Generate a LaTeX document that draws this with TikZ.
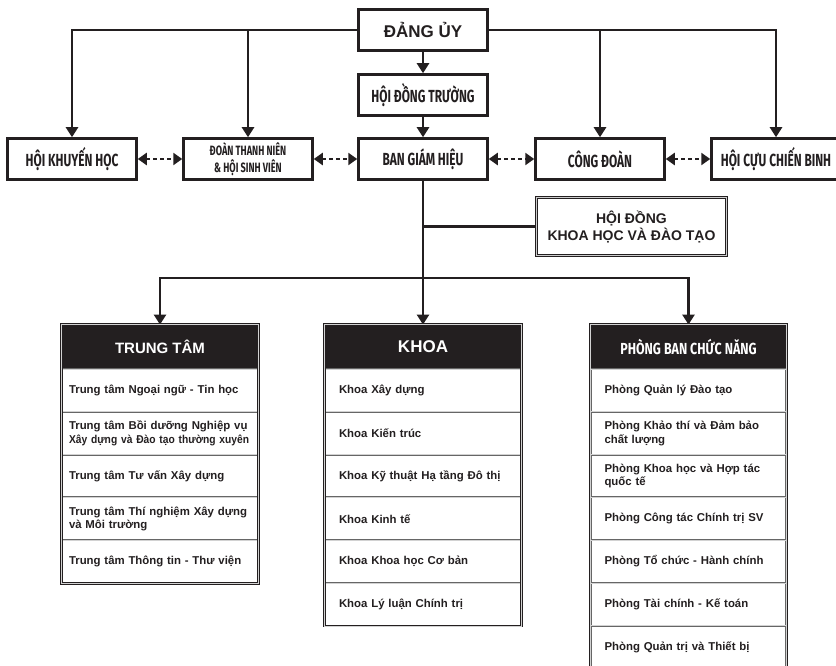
\documentclass[tikz,border=0pt]{standalone}
\usepackage{fontspec}
\setmainfont{Liberation Sans}
\newfontfamily\narrowfont[FakeStretch=0.68]{Fira Sans}
\newfontfamily\headfont[FakeStretch=0.78]{Fira Sans}
\newfontfamily\tightfont[FakeStretch=0.9]{Liberation Sans}
\usetikzlibrary{arrows.meta}

\definecolor{inkblack}{HTML}{231F20}

\tikzset{
    unitbox/.style={draw=inkblack, line width=2.5pt, fill=white, minimum width=129pt, minimum height=41pt,
        inner sep=2pt, align=center, text=inkblack, font=\narrowfont\bfseries\fontsize{17.5}{18}\selectfont},
    councilbox/.style={draw=inkblack, line width=1pt, double=gray!40, double distance=1.8pt, fill=white,
        minimum width=190pt, minimum height=58pt, align=center, text=inkblack, font=\bfseries\fontsize{14}{17}\selectfont},
    listhead/.style={draw=inkblack, fill=inkblack, line width=0.8pt, minimum width=196pt, minimum height=44pt,
        inner sep=0pt, text=white, font=\bfseries\fontsize{15}{16}\selectfont},
    listitem/.style={draw=black!60, line width=0.6pt, double=gray!35, double distance=0.9pt, fill=white,
        text width=168pt, minimum height=42.8pt, inner xsep=14pt, inner ysep=0pt, align=left, text=inkblack,
        font=\bfseries\fontsize{11.4}{13.5}\selectfont},
    listframe/.style={draw=inkblack, line width=0.8pt, double=gray!35, double distance=1pt},
    solidarrow/.style={draw=inkblack, line width=2.4pt, -{Triangle[width=12pt,length=10pt]}},
    linkarrow/.style={draw=inkblack, line width=2.4pt, dash pattern=on 4pt off 3pt,
        {Triangle[width=12pt,length=9pt]}-{Triangle[width=12pt,length=9pt]}},
    plainline/.style={draw=inkblack, line width=2.4pt}
}

\begin{document}
\begin{tikzpicture}[x=1pt, y=-1pt]
    \clip (0,0) rectangle (836,666);
    %   Top level
    \node[unitbox, font=\bfseries\fontsize{17}{18}\selectfont] (dangUy) at (423,30) {ĐẢNG ỦY};
    \node[unitbox] (hdTruong) at (423,95) {HỘI ĐỒNG TRƯỜNG};
    \node[unitbox] (banGH) at (423,159) {BAN GIÁM HIỆU};
    \node[unitbox] (khuyenHoc) at (72,159) {HỘI KHUYẾN HỌC};
    \node[unitbox, font=\narrowfont\bfseries\fontsize{13.5}{16.5}\selectfont] (doanTN) at (248,159) {ĐOÀN THANH NIÊN\\\& HỘI SINH VIÊN};
    \node[unitbox] (congDoan) at (600,159) {CÔNG ĐOÀN};
    \node[unitbox] (cuuCB) at (776,159) {HỘI CỰU CHIẾN BINH};

    \draw[solidarrow] (dangUy.west) -| (khuyenHoc.north);
    \draw[solidarrow] (dangUy.west) -| (doanTN.north);
    \draw[solidarrow] (dangUy.east) -| (congDoan.north);
    \draw[solidarrow] (dangUy.east) -| (cuuCB.north);
    \draw[solidarrow] (dangUy) -- (hdTruong);
    \draw[solidarrow] (hdTruong) -- (banGH);
    \draw[linkarrow] (khuyenHoc) -- (doanTN);
    \draw[linkarrow] (doanTN) -- (banGH);
    \draw[linkarrow] (banGH) -- (congDoan);
    \draw[linkarrow] (congDoan) -- (cuuCB);

    %   Council and branches
    \node[councilbox] (hdKhoaHoc) at (631.5,226.5) {HỘI ĐỒNG\\KHOA HỌC VÀ ĐÀO TẠO};
    \coordinate (fork) at (423,278);
    \draw[plainline] (banGH.south) -- (fork);
    \draw[plainline] (banGH.south |- hdKhoaHoc.west) -- (hdKhoaHoc.west);

    \node[listhead] (trungTam) at (160,347) {TRUNG TÂM};
    \node[listhead, font=\bfseries\fontsize{17}{18}\selectfont] (khoa) at (423,347) {KHOA};
    \node[listhead, font=\headfont\bfseries\fontsize{16}{18}\selectfont] (phongBan) at (688.5,347) {PHÒNG BAN CHỨC NĂNG};
    \draw[solidarrow] (fork) -| (trungTam.north);
    \draw[solidarrow] (fork) -- (khoa.north);
    \draw[solidarrow] (fork) -| (phongBan.north);

    %   Lists
    \foreach \txt [count=\i] in {Trung tâm Ngoại ngữ - Tin học,
        {Trung tâm Bồi dưỡng Nghiệp vụ\\\mbox{\tightfont Xây dựng và Đào tạo thường xuyên}},
        Trung tâm Tư vấn Xây dựng,
        {Trung tâm Thí nghiệm Xây dựng\\và Môi trường},
        Trung tâm Thông tin - Thư viện}
        \node[listitem, text width=182pt, inner xsep=7pt] (trungTam\i) at (160,{390.4+(\i-1)*42.8}) {\txt};
    \foreach \txt [count=\i] in {Khoa Xây dựng, Khoa Kiến trúc, Khoa Kỹ thuật Hạ tầng Đô thị,
        Khoa Kinh tế, Khoa Khoa học Cơ bản, Khoa Lý luận Chính trị}
        \node[listitem] (khoa\i) at (423,{390.4+(\i-1)*42.8}) {\txt};
    \foreach \txt [count=\i] in {Phòng Quản lý Đào tạo,
        {Phòng Khảo thí và Đảm bảo\\chất lượng},
        {Phòng Khoa học và Hợp tác\\quốc tế},
        Phòng Công tác Chính trị SV, Phòng Tổ chức - Hành chính,
        Phòng Tài chính - Kế toán, Phòng Quản trị và Thiết bị}
        \node[listitem] (phongBan\i) at (688.5,{390.4+(\i-1)*42.8}) {\txt};

    \draw[listframe] (trungTam.north west) rectangle (trungTam5.south east);
    \draw[listframe] (khoa.north west) rectangle (khoa6.south east);
    \draw[listframe] (phongBan.north west) rectangle (phongBan7.south east);
\end{tikzpicture}
\end{document}
